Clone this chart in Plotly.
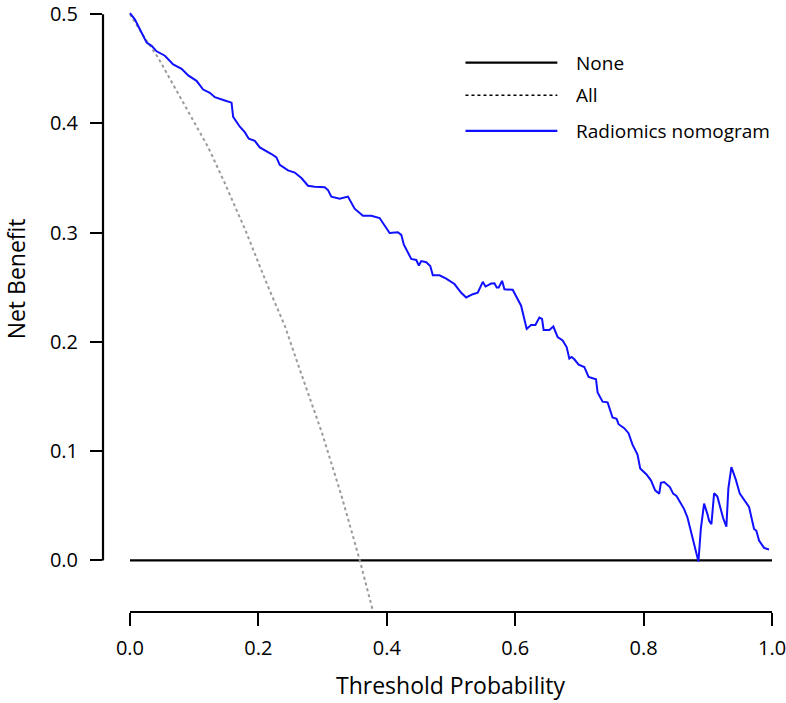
import plotly.graph_objects as go

# threshold probabilities / net benefit
none_x = [0.0, 1.0]
none_y = [0.0, 0.0]

all_x = [0.0, 0.02, 0.044, 0.07, 0.096, 0.122, 0.148, 0.18, 0.2126, 0.241, 0.264, 0.30, 0.33, 0.358, 0.38]
all_y = [0.5, 0.481, 0.460, 0.433, 0.406, 0.378, 0.345, 0.302, 0.254, 0.215, 0.1756, 0.115, 0.058, 0.0, -0.05]

model_x = [0.000, 0.0078, 0.0156, 0.0207, 0.0260, 0.0337, 0.0415, 0.0544, 0.0673, 0.0804,
           0.0907, 0.1037, 0.1140, 0.1244, 0.1322, 0.1477, 0.1582, 0.1607, 0.1711, 0.1788,
           0.1851, 0.1944, 0.2022, 0.2204, 0.2281, 0.2333, 0.2462, 0.2566, 0.2670, 0.2773,
           0.2877, 0.3033, 0.3084, 0.3137, 0.3266, 0.3395, 0.3499, 0.3628, 0.3759, 0.3888,
           0.4044, 0.4173, 0.4226, 0.4266, 0.4381, 0.4459, 0.4499, 0.4537, 0.4614, 0.4677,
           0.4717, 0.4821, 0.4925, 0.5054, 0.5159, 0.5236, 0.5339, 0.5417, 0.5495, 0.5537,
           0.5625, 0.5677, 0.5712, 0.5743, 0.5796, 0.5832, 0.5961, 0.6092, 0.6179, 0.6247,
           0.6314, 0.6376, 0.6418, 0.6443, 0.6532, 0.6594, 0.6661, 0.6739, 0.6801, 0.6843,
           0.6879, 0.6921, 0.6988, 0.7076, 0.7143, 0.7258, 0.7283, 0.7361, 0.7439, 0.7516,
           0.7579, 0.7610, 0.7698, 0.7765, 0.7827, 0.7905, 0.7947, 0.8045, 0.8114, 0.8180,
           0.8243, 0.8269, 0.8320, 0.8409, 0.8460, 0.8512, 0.8631, 0.8683, 0.8751, 0.8802,
           0.8854, 0.8891, 0.8942, 0.8994, 0.9020, 0.9056, 0.9098, 0.9149, 0.9238, 0.9289,
           0.9320, 0.9367, 0.9435, 0.9498, 0.9565, 0.9642, 0.9720, 0.9756, 0.9798, 0.9876,
           0.9953]
model_y = [0.501, 0.495, 0.486, 0.480, 0.474, 0.471, 0.466, 0.462, 0.454, 0.450,
           0.444, 0.439, 0.431, 0.428, 0.424, 0.421, 0.419, 0.406, 0.397, 0.392,
           0.386, 0.384, 0.378, 0.372, 0.369, 0.362, 0.357, 0.355, 0.350, 0.343,
           0.342, 0.3415, 0.339, 0.333, 0.331, 0.333, 0.322, 0.3155, 0.3155, 0.3134,
           0.2997, 0.3004, 0.298, 0.289, 0.276, 0.275, 0.270, 0.274, 0.273, 0.2695,
           0.261, 0.261, 0.258, 0.253, 0.245, 0.2407, 0.2437, 0.245, 0.255, 0.2507,
           0.2534, 0.2537, 0.2498, 0.2498, 0.2559, 0.2482, 0.2477, 0.2332, 0.2119, 0.2155,
           0.2155, 0.2223, 0.2210, 0.2110, 0.2110, 0.2141, 0.2044, 0.2014, 0.1953, 0.1847,
           0.1862, 0.1841, 0.1792, 0.1771, 0.1680, 0.1659, 0.1538, 0.1453, 0.1447, 0.1308,
           0.1296, 0.1247, 0.1211, 0.1165, 0.1060, 0.0969, 0.0842, 0.0787, 0.0733, 0.0642,
           0.0611, 0.0711, 0.0718, 0.0672, 0.0611, 0.0590, 0.0470, 0.0393, 0.0243, 0.0121,
           -0.0009, 0.0288, 0.0520, 0.0424, 0.0363, 0.0333, 0.0615, 0.0584, 0.0388, 0.0309,
           0.0660, 0.0854, 0.0742, 0.0611, 0.0551, 0.0490, 0.0288, 0.0272, 0.0182, 0.0115,
           0.0100]

x_ticks = [0.0, 0.2, 0.4, 0.6, 0.8, 1.0]
y_ticks = [0.0, 0.1, 0.2, 0.3, 0.4, 0.5]
legend_names = ["None", "All", "Radiomics nomogram"]

FONT = "Open Sans"
W, H = 786, 703
L, B = 103, 91
PW, PH = W - L, H - B


def px(x):
    return (x - L) / PW


def py(y):
    return 1 - y / PH


fig = go.Figure()
fig.add_trace(go.Scatter(x=none_x, y=none_y, mode="lines", line=dict(color="black", width=2.2)))
fig.add_trace(go.Scatter(x=all_x, y=all_y, mode="lines",
                         line=dict(color="#9a9a9a", width=2, dash="dot")))
fig.add_trace(go.Scatter(x=model_x, y=model_y, mode="lines", line=dict(color="#1010ff", width=2)))

shapes = [
    # R style detached axes
    dict(type="line", xref="paper", yref="y", x0=0, x1=0, y0=0, y1=0.5, line=dict(color="black", width=2.2)),
    dict(type="line", xref="x", yref="paper", x0=0, x1=1, y0=0, y1=0, line=dict(color="black", width=2.2)),
]
leg_style = [dict(color="black", width=2.2), dict(color="black", width=1.5, dash="dot"),
             dict(color="#1010ff", width=2.2)]
leg_y = [58, 91, 127]
annotations = []
for name, st, yy in zip(legend_names, leg_style, leg_y):
    shapes.append(dict(type="line", xref="paper", yref="paper", x0=px(466), x1=px(558),
                       y0=py(yy), y1=py(yy), line=st))
    annotations.append(dict(text=name, xref="paper", yref="paper", x=px(575), y=py(yy),
                            xanchor="left", yanchor="middle", showarrow=False,
                            font=dict(family=FONT, size=19, color="black")))

annotations.append(dict(text="Threshold Probability", xref="paper", yref="paper",
                        x=px(451.5), y=py(686), xanchor="center", yanchor="middle",
                        showarrow=False, font=dict(family=FONT, size=23, color="black")))
annotations.append(dict(text="Net Benefit", xref="paper", yref="paper", x=px(15.5), y=py(276),
                        xanchor="center", yanchor="middle", textangle=-90, showarrow=False,
                        font=dict(family=FONT, size=23, color="black")))

fig.update_layout(
    width=W, height=H, showlegend=False,
    margin=dict(l=L, r=0, t=0, b=B),
    plot_bgcolor="white", paper_bgcolor="white",
    shapes=shapes, annotations=annotations,
    xaxis=dict(range=[-0.042, 1.0202], tickvals=x_ticks, ticktext=["%.1f" % v for v in x_ticks],
               ticks="outside", ticklen=13, tickwidth=2.2, tickcolor="black",
               showgrid=False, zeroline=False, showline=False, ticklabelstandoff=5,
               ticklabeloverflow="allow",
               tickfont=dict(family=FONT, size=20, color="black")),
    yaxis=dict(range=[-0.0472, 0.5084], tickvals=y_ticks, ticktext=["%.1f" % v for v in y_ticks],
               ticks="outside", ticklen=12, tickwidth=2.2, tickcolor="black",
               showgrid=False, zeroline=False, showline=False, ticklabelstandoff=8,
               ticklabeloverflow="allow",
               tickfont=dict(family=FONT, size=20, color="black")),
)

fig.write_html("out.html", config={"displayModeBar": False},
               post_script="document.body.style.margin='0';")
